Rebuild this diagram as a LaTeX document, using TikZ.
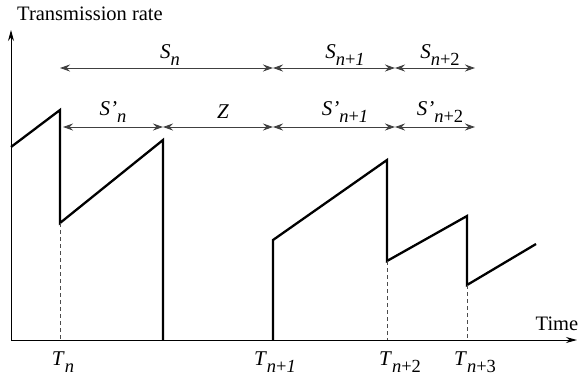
\documentclass[tikz,border=0pt]{standalone}
\usepackage{fontspec}
\setmainfont{Liberation Serif}
\usetikzlibrary{arrows.meta}
\newcommand\lbl[2]{\textit{#1}\raisebox{-0.33em}{\fontsize{18.5}{19}\selectfont #2}}
\begin{document}
\begin{tikzpicture}[x=1pt,y=-1pt,
  axis/.style={line width=1pt,-{Stealth[length=11pt,width=6pt]}},
  saw/.style={line width=2.3pt},
  dim/.style={line width=0.9pt,draw=black!75,{Stealth[length=10pt,width=7pt]}-{Stealth[length=10pt,width=7pt]}},
  guide/.style={line width=0.7pt,draw=black!70,dash pattern=on 4pt off 3pt},
  lab/.style={font=\fontsize{21}{22}\selectfont,inner sep=0pt}]
\useasboundingbox (0,0) rectangle (580,381);
% axes
\coordinate (O) at (11,340);
\coordinate (ytop) at (11,30);
\coordinate (xend) at (577,340);
\draw[axis] (O) -- (ytop);
\draw[axis] (O) -- (xend);
\node[lab,font=\fontsize{20.5}{21}\selectfont] (ylab) at (90,14) {Transmission rate};
\node[lab,font=\fontsize{20.5}{21}\selectfont] (xlab) at (557,324) {Time};
% sawtooth
\draw[saw] (11,147) -- (60,110) -- (60,223) -- (163,140) -- (163,340);
\draw[saw] (273,340) -- (273,240) -- (387,160) -- (387,261) -- (467,216) -- (467,285) -- (536,244);
% guides
\draw[guide] (60,223) -- (60,340);
\draw[guide] (387,261) -- (387,340);
\draw[guide] (467,285) -- (467,340);
% dimension rows
\coordinate (a1) at (60,68);
\coordinate (a2) at (273,68);
\coordinate (a3) at (395,68);
\coordinate (a4) at (475,68);
\coordinate (b1) at (63,127);
\coordinate (b2) at (163,127);
\coordinate (b3) at (273,127);
\coordinate (b4) at (395,127);
\coordinate (b5) at (475,127);
\draw[dim] (a1) -- (a2);
\draw[dim] (a2) -- (a3);
\draw[dim] (a3) -- (a4);
\draw[dim] (b1) -- (b2);
\draw[dim] (b2) -- (b3);
\draw[dim] (b3) -- (b4);
\draw[dim] (b4) -- (b5);
\node[lab] (sn) at (170,55) {\lbl{S}{\textit{n}}};
\node[lab] (sn1) at (345,55) {\lbl{S}{\textit{n}+\textit{1}}};
\node[lab] (sn2) at (440,55) {\lbl{S}{\textit{n}+2}};
\node[lab] (spn) at (113,112) {\lbl{S'}{\textit{n}}};
\node[lab] (z) at (223,112) {\textit{Z}};
\node[lab] (spn1) at (345,112) {\lbl{S'}{\textit{n}+\textit{1}}};
\node[lab] (spn2) at (440,112) {\lbl{S'}{\textit{n}+2}};
% time labels
\node[lab] (tn) at (63,362) {\lbl{T}{\textit{n}}};
\node[lab] (tn1) at (275,362) {\lbl{T}{\textit{n}+\textit{1}}};
\node[lab] (tn2) at (400,362) {\lbl{T}{\textit{n}+2}};
\node[lab] (tn3) at (475,362) {\lbl{T}{\textit{n}+3}};
\end{tikzpicture}
\end{document}
